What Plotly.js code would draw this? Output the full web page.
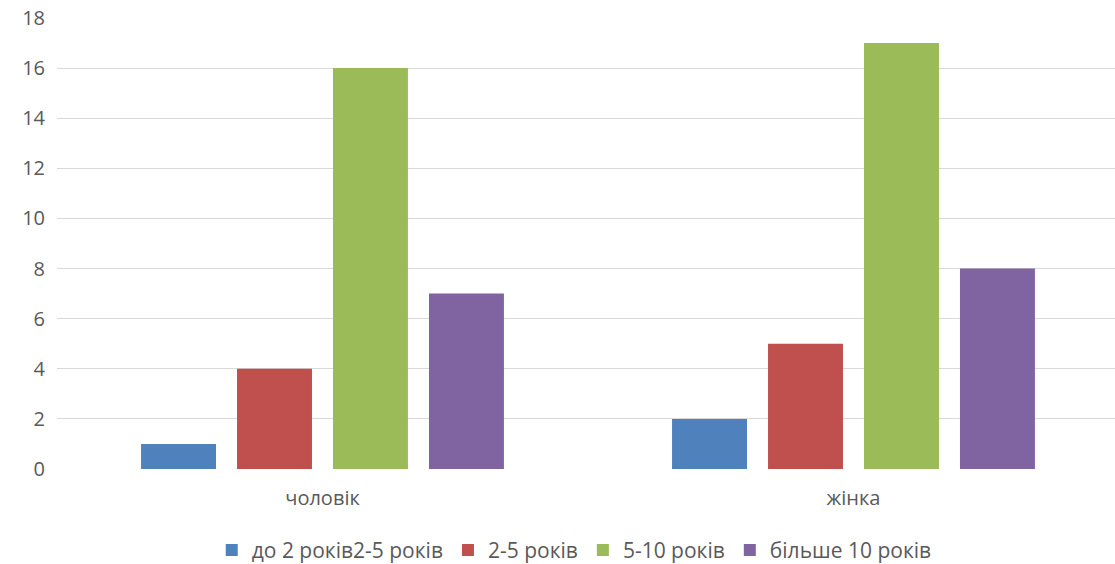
<!DOCTYPE html>
<html><head><meta charset="utf-8">
<script src="https://cdn.plot.ly/plotly-3.0.1.min.js"></script>
<style>html,body{margin:0;padding:0;background:#fff}#chart{width:1115px;height:564px}</style>
</head><body><div id="chart"></div>
<script>
const categories = ["чоловік", "жінка"];
const seriesNames = ["до 2 років2-5 років", "2-5 років", "5-10 років", "більше 10 років"];
const seriesColors = ["#4f81bd", "#c0504d", "#9bbb59", "#8064a2"];
const s1 = [1, 2];
const s2 = [4, 5];
const s3 = [16, 17];
const s4 = [7, 8];
const yTicks = [0, 2, 4, 6, 8, 10, 12, 14, 16, 18];

const values = [s1, s2, s3, s4];
const traces = values.map((v, i) => ({
  type: "bar", x: categories, y: v, name: seriesNames[i],
  marker: {color: seriesColors[i]}, hoverinfo: "none"
}));

const layout = {
  width: 1115, height: 564,
  margin: {l: 57, r: 0, t: 18, b: 95},
  paper_bgcolor: "#fff", plot_bgcolor: "#fff",
  barmode: "group", bargap: 0.277, bargroupgap: 0.219,
  font: {family: "Open Sans, sans-serif", size: 20, color: "#595959"},
  xaxis: {range: [-0.5, 1.4925], showgrid: false, showline: false, ticks: "", zeroline: false,
          automargin: false, ticklabelstandoff: 15, tickfont: {size: 20, color: "#595959"}},
  yaxis: {range: [0, 18], tickvals: yTicks, showgrid: true, gridcolor: "#d9d9d9",
          gridwidth: 1, zeroline: false, showline: false, ticks: "", ticklabelstandoff: 11,
          automargin: false, tickfont: {size: 20, color: "#595959"}},
  showlegend: true,
  legend: {orientation: "h", x: 0.515, xanchor: "center", xref: "container",
           y: 0.024, yanchor: "middle", yref: "container",
           font: {size: 21, color: "#595959"}, itemwidth: 30, tracegroupgap: 0},
};
Plotly.newPlot("chart", traces, layout, {displayModeBar: false, staticPlot: true});
</script></body></html>
